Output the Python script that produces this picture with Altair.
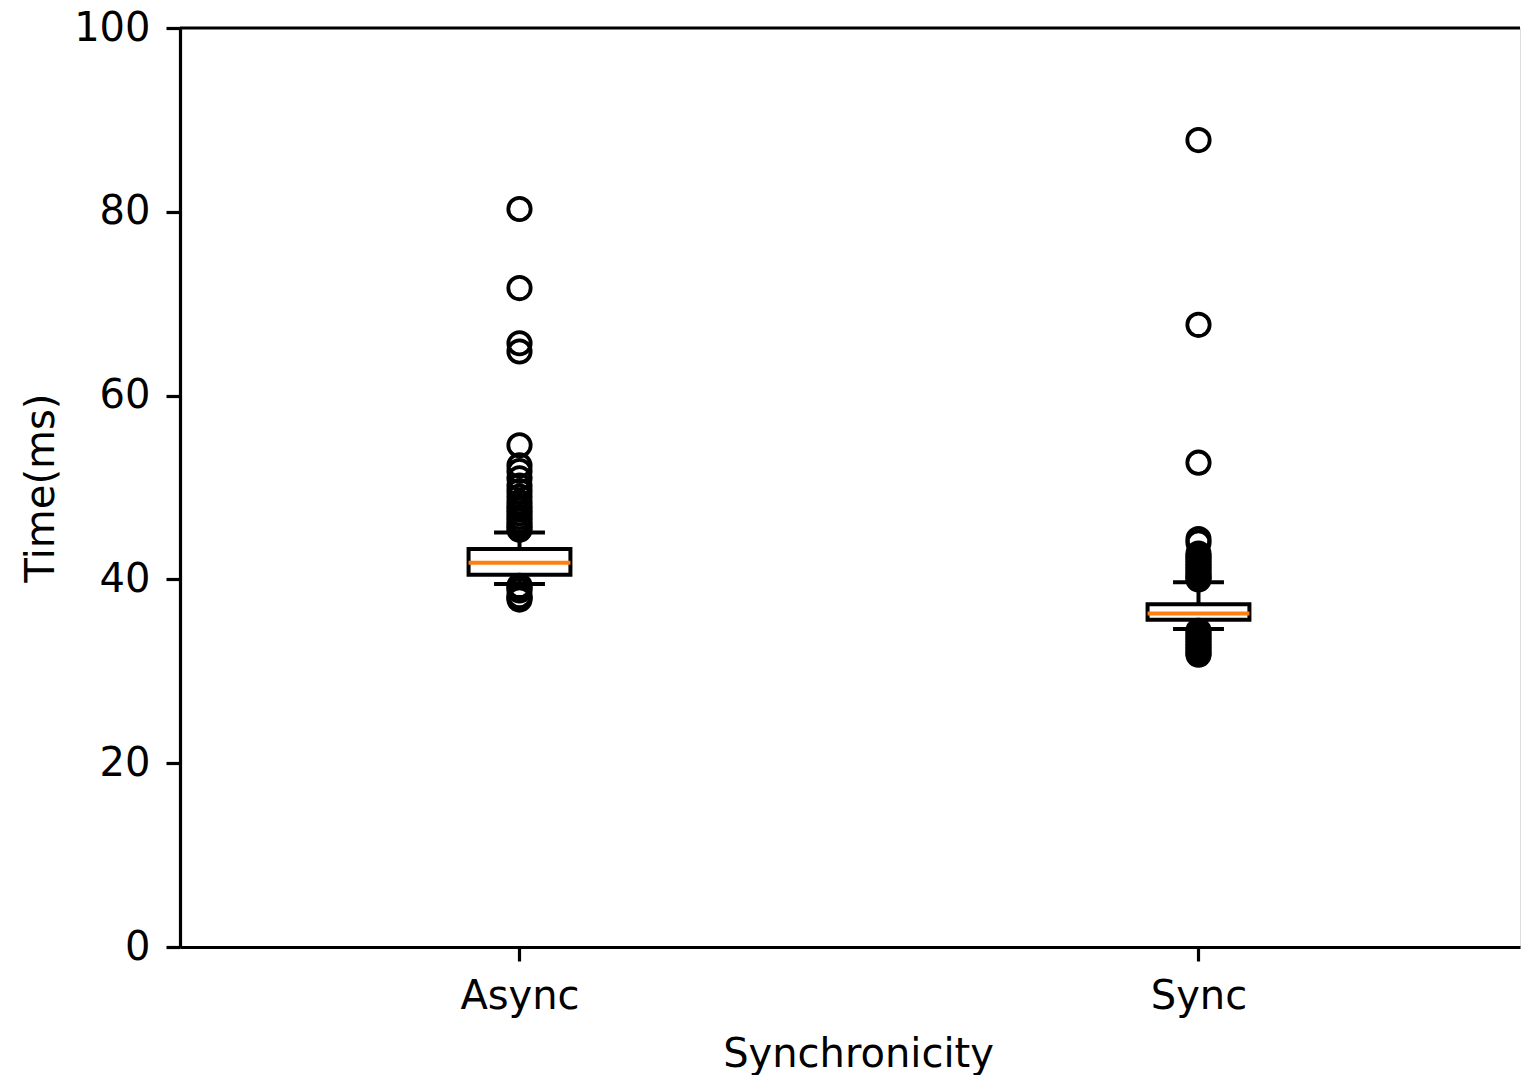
import altair as alt
import pandas as pd

# ---- data ----
categories = ["Async", "Sync"]
positions = [1, 2]
q1 = [40.5, 35.6]
median = [41.8, 36.3]
q3 = [43.3, 37.3]
whisker_low = [39.5, 34.6]
whisker_high = [45.1, 39.7]

outliers_async = [80.3, 71.7, 65.7, 64.8, 54.6, 52.4, 51.8, 51.0, 50.2, 49.6,
                  49.0, 48.4, 48.0, 47.6, 47.2, 46.8, 46.4, 46.0, 45.7, 45.4,
                  39.3, 39.1, 38.8, 38.2, 38.0, 37.8]
outliers_sync = [87.8, 67.7, 52.7, 44.4, 44.0, 42.8, 42.5, 42.2, 41.9, 41.6,
                 41.3, 41.0, 40.7, 40.4, 40.2, 40.0,
                 34.4, 34.1, 33.8, 33.5, 33.2, 32.9, 32.6, 32.3, 32.0, 31.8]

y_ticks = [0, 20, 40, 60, 80, 100]
y_min, y_max = 0, 100

# ---- tables ----
box_df = pd.DataFrame({
    "pos": positions, "cat": categories, "q1": q1, "median": median,
    "q3": q3, "wlo": whisker_low, "whi": whisker_high,
})
out_df = pd.DataFrame({
    "pos": [positions[0]] * len(outliers_async) + [positions[1]] * len(outliers_sync),
    "value": outliers_async + outliers_sync,
})

FONT = "DejaVu Sans"
LW = 4
half_box = 0.075
half_cap = 0.0375

x_scale = alt.Scale(domain=[0.5, 2.4735], nice=False, zero=False)
y_scale = alt.Scale(domain=[y_min, y_max], nice=False)

label_expr = " : ".join(
    [f"datum.value == {p} ? '{c}'" for p, c in zip(positions, categories)]
) + " : ''"

x_axis = alt.Axis(
    values=positions, labelExpr=label_expr, title="Synchronicity", grid=False,
    tickSize=14, tickWidth=3.2, tickColor="black", domainColor="black",
    domainWidth=3.2, labelFontSize=40, titleFontSize=40, labelFont=FONT,
    titleFont=FONT, labelColor="black", titleColor="black",
    titleFontWeight="normal", labelPadding=15.5, titlePadding=18,
    titleX=678,
)
y_axis = alt.Axis(
    values=y_ticks, title="Time(ms)", grid=False,
    tickSize=14, tickWidth=3.2, tickColor="black", domainColor="black",
    domainWidth=3.2, labelFontSize=40, titleFontSize=40, labelFont=FONT,
    titleFont=FONT, labelColor="black", titleColor="black",
    titleFontWeight="normal", labelPadding=16, titlePadding=12.6,
)

base = alt.Chart(box_df).transform_calculate(
    bx1=f"datum.pos - {half_box}", bx2=f"datum.pos + {half_box}",
    cx1=f"datum.pos - {half_cap}", cx2=f"datum.pos + {half_cap}",
)

box = base.mark_rect(fillOpacity=0, stroke="black", strokeWidth=LW).encode(
    x=alt.X("bx1:Q", scale=x_scale, axis=x_axis),
    x2="bx2:Q",
    y=alt.Y("q1:Q", scale=y_scale, axis=y_axis),
    y2="q3:Q",
)
whisk_hi = base.mark_rule(color="black", strokeWidth=LW).encode(
    x=alt.X("pos:Q", scale=x_scale), y=alt.Y("q3:Q", scale=y_scale), y2="whi:Q")
whisk_lo = base.mark_rule(color="black", strokeWidth=LW).encode(
    x=alt.X("pos:Q", scale=x_scale), y=alt.Y("wlo:Q", scale=y_scale), y2="q1:Q")
cap_hi = base.mark_rule(color="black", strokeWidth=LW).encode(
    x=alt.X("cx1:Q", scale=x_scale), x2="cx2:Q", y=alt.Y("whi:Q", scale=y_scale))
cap_lo = base.mark_rule(color="black", strokeWidth=LW).encode(
    x=alt.X("cx1:Q", scale=x_scale), x2="cx2:Q", y=alt.Y("wlo:Q", scale=y_scale))
med = base.mark_rule(color="#ff7f0e", strokeWidth=LW).encode(
    x=alt.X("bx1:Q", scale=x_scale), x2="bx2:Q", y=alt.Y("median:Q", scale=y_scale))

fliers = alt.Chart(out_df).mark_point(
    shape="circle", filled=False, stroke="black", strokeWidth=3.8, size=500, opacity=1
).encode(
    x=alt.X("pos:Q", scale=x_scale),
    y=alt.Y("value:Q", scale=y_scale),
)

top_spine = alt.Chart(pd.DataFrame({"top": [y_max]})).mark_rule(
    color="black", strokeWidth=3.2
).encode(y=alt.Y("top:Q", scale=y_scale))

chart = alt.layer(
    box, whisk_hi, whisk_lo, cap_hi, cap_lo, med, fliers, top_spine
).properties(
    width=1340, height=919,
    autosize=alt.AutoSizeParams(type="none"),
    padding={"left": 172, "top": 20, "right": 1, "bottom": 128},
).configure_view(stroke=None).configure(background="white")

chart.save("out.html", embed_options={"renderer": "svg", "actions": False})
